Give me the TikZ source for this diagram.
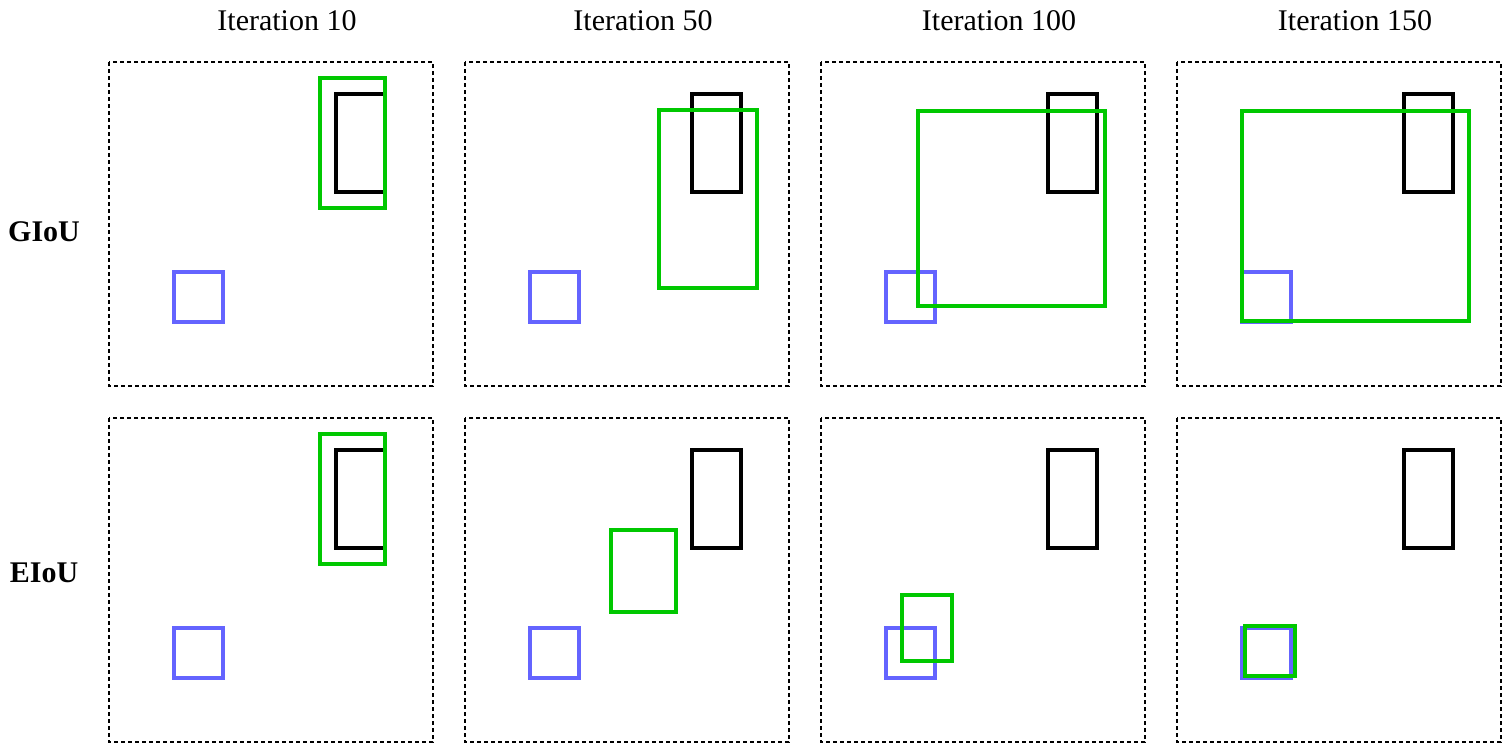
\documentclass[tikz,border=0pt]{standalone}
\usepackage{fontspec}
\setmainfont{Liberation Serif}
\usetikzlibrary{positioning}

\definecolor{predgreen}{RGB}{0,200,0}
\definecolor{anchorblue}{RGB}{100,100,255}

\begin{document}
\begin{tikzpicture}[x=0.5pt,y=-0.5pt,
  font=\fontsize{15}{18}\selectfont,
  panel/.style={draw,dash pattern=on 2pt off 1.5pt,line width=0.75pt},
  anchorbox/.style={draw=anchorblue,line width=2pt},
  targetbox/.style={draw=black,line width=2pt},
  predbox/.style={draw=predgreen,line width=2pt},
  rowlabel/.style={font=\fontsize{15}{18}\selectfont\bfseries},
]
  \useasboundingbox (0,0) rectangle (1510,751);

  \foreach \c/\n in {0/10,1/50,2/100,3/150} {
    \node (iter\c) at (287+356*\c,20.5) {Iteration \n};
  }
  \node[rowlabel] (giou) at (44,231.5) {GIoU};
  \node[rowlabel] (eiou) at (44,572.5) {EIoU};

  % column/row/corners of the predicted box, relative to the panel
  \foreach \c/\r/\xa/\ya/\xb/\yb in {0/0/211/16/276/146,1/0/194/48/292/226,2/0/97/49/284/244,3/0/65/49/292/259,
                                     0/1/211/16/276/146,1/1/146/112/211/194,2/1/81/177/131/243,3/1/68/208/118/258} {
    \begin{scope}[shift={(109+356*\c,62+356*\r)}]
      \draw[panel] (0,0) rectangle (324,324);
      \draw[anchorbox] (65,210) rectangle (114,260);
      \draw[targetbox] (227,32) rectangle (276,130);
      \draw[predbox] (\xa,\ya) rectangle (\xb,\yb);
    \end{scope}
  }
\end{tikzpicture}
\end{document}
